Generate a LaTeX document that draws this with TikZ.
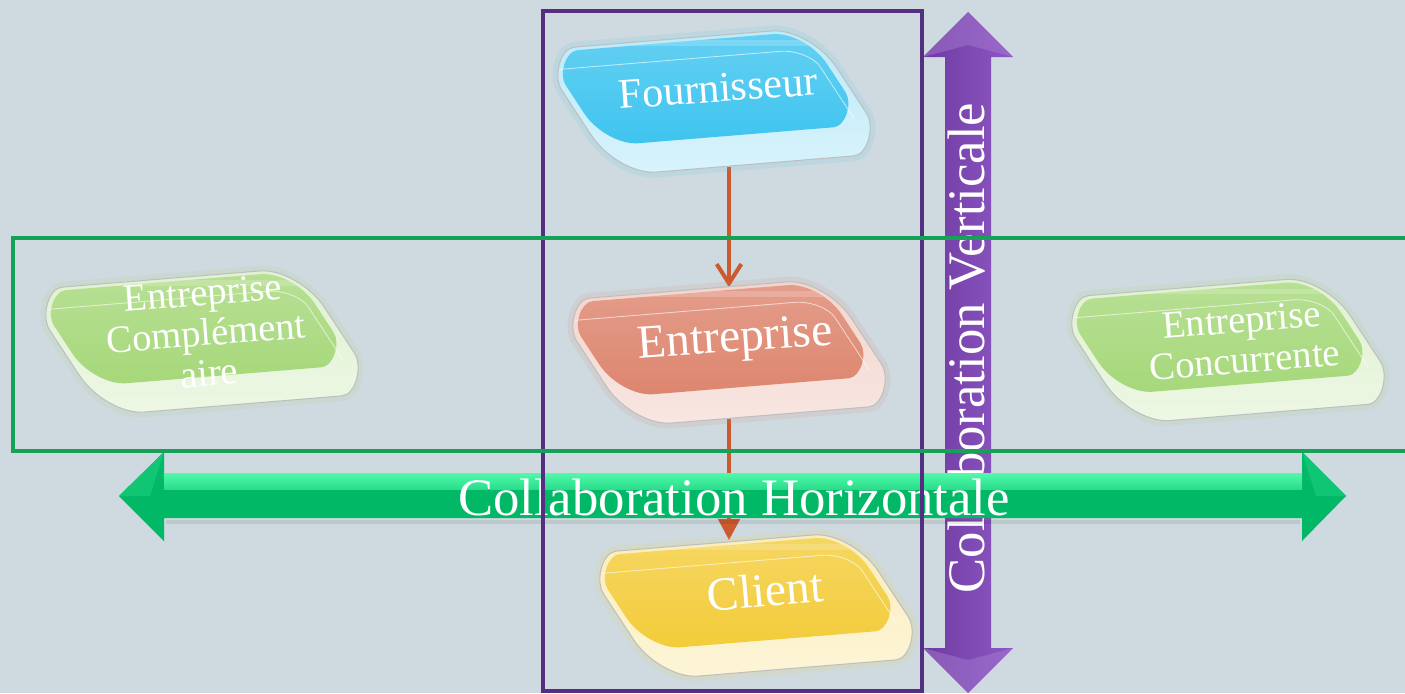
\documentclass[tikz,border=0pt]{standalone}
\usepackage{fontspec}
\setmainfont{Liberation Serif}
\usetikzlibrary{arrows.meta}
\definecolor{bgcol}{RGB}{206,218,223}
\definecolor{fourncol}{RGB}{62,196,239}
\definecolor{entrcol}{RGB}{221,133,110}
\definecolor{clicol}{RGB}{243,204,58}
\definecolor{partcol}{RGB}{166,216,122}
\definecolor{framevert}{RGB}{84,46,128}
\definecolor{framehor}{RGB}{22,160,88}
\definecolor{flowcol}{RGB}{204,90,46}
\definecolor{horlight}{RGB}{80,250,170}
\definecolor{hordark}{RGB}{0,184,102}
\definecolor{vertdark}{RGB}{110,58,160}
\definecolor{vertlight}{RGB}{142,88,196}
\tikzstyle{slot}=[rectangle,minimum width=6.24cm,minimum height=2.6cm,inner sep=0pt]
\tikzstyle{btntext}=[text=white,inner sep=0pt,align=center]
\tikzstyle{flow}=[draw=flowcol,line width=2.3pt]
\tikzstyle{frame}=[draw,line width=2.2pt]
\tikzstyle{bigtext}=[text=white,inner sep=0pt,font=\fontsize{30}{36}\selectfont]

% rounded box: x0 y0 x1 y1 cut-x cut-y, #7 = pull of the sharp corners
\newcommand{\glassrr}[7]{({#1+#5},#2) -- ({#3-#5},#2) .. controls +({0.552*#5},0) and +(0,{-0.552*#6}) .. (#3,{#2+#6})
  -- (#3,{#4-#6}) .. controls +(0,{#7*#6}) and +({#7*#5},0) .. ({#3-#5},#4)
  -- ({#1+#5},#4) .. controls +({-0.552*#5},0) and +(0,{0.552*#6}) .. (#1,{#4-#6})
  -- (#1,{#2+#6}) .. controls +(0,{-#7*#6}) and +({-#7*#5},0) .. ({#1+#5},#2) -- cycle}

% glass button drawn round a slot node
\newcommand{\slab}[2]{%
  \begin{scope}[shift={#1},x={(5.5cm,0.45cm)},y={(1.64cm,-2.5cm)}]
    \draw[#2,opacity=.12,line width=6pt] \glassrr{-0.5}{-0.5}{0.5}{0.5}{0.14}{0.32}{0.35};
    \shadedraw[top color=#2!35!white,bottom color=white!80!#2,draw=gray!50,line width=.6pt]
      \glassrr{-0.5}{-0.5}{0.5}{0.5}{0.14}{0.32}{0.35};
    \shade[top color=#2!80!white,bottom color=#2] \glassrr{-0.475}{-0.475}{0.475}{0.27}{0.12}{0.26}{0.35};
    \begin{scope}
      \clip \glassrr{-0.475}{-0.475}{0.475}{0.27}{0.12}{0.26}{0.35};
      \fill[white,opacity=.18] (-0.6,-0.6) rectangle (0.6,-0.34);
    \end{scope}
    \draw[white,opacity=.6,line width=.5pt] (-0.46,-0.34) -- (0.34,-0.34)
      .. controls +(0.06,0) and +(0,-0.07) .. (0.445,-0.2) -- (0.445,0.22);
  \end{scope}}

\begin{document}
\begin{tikzpicture}[x=0.02cm,y=-0.02cm]
        \useasboundingbox (0,0) rectangle (1405,693);
        \fill[bgcol] (0,0) rectangle (1405,693);

        \node[slot] (fourn) at (714,101.5) {};
        \node[slot] (entr) at (729,352.5) {};
        \node[slot] (cli) at (756,605.5) {};
        \node[slot] (compl) at (202,341.5) {};
        \node[slot] (concur) at (1228,350) {};

        % vertical arrow
        \shade[left color=vertdark,right color=vertlight]
          (968,12) -- (1013,57) -- (991,57) -- (991,648) -- (1013,648) -- (968,693)
          -- (923,648) -- (945,648) -- (945,57) -- (923,57) -- cycle;
        \fill[vertlight!80!white,opacity=.5] (968,12) -- (1013,57) -- (968,45) -- (923,57) -- cycle;
        \fill[vertlight!80!white,opacity=.5] (968,693) -- (1013,648) -- (968,660) -- (923,648) -- cycle;
        \node[bigtext,rotate=90] (vertlbl) at (967,348) {Collaboration Verticale};

        \draw[flow,-{Straight Barb[length=11pt,width=14pt]}] (fourn.south -| entr.north) to (entr.north);
        \draw[flow,-{Triangle[length=12pt,width=12pt]}] (entr.south) to (entr.south |- cli.north);

        % horizontal arrow
        \fill[black,opacity=.08] (166,520) rectangle (1300,524);
        \fill[hordark] (119,496) -- (164,452) -- (164,473) -- (1302,473) -- (1302,452) -- (1346,496)
          -- (1302,541) -- (1302,518) -- (164,518) -- (164,541) -- cycle;
        \shade[top color=horlight,bottom color=horlight!55!hordark] (164,473) rectangle (1302,489);
        \fill[hordark!80!horlight] (119,496) -- (164,452) -- (150,496) -- cycle;
        \fill[hordark!80!horlight] (1346,496) -- (1302,452) -- (1316,496) -- cycle;
        \node[bigtext] (horlbl) at (734,497) {Collaboration Horizontale};

        \draw[frame,framevert] (543,11) rectangle (922,691);
        \draw[frame,framehor] (13,238) rectangle (1412,451);

        \slab{(fourn.center)}{fourncol}
        \slab{(entr.center)}{entrcol}
        \slab{(cli.center)}{clicol}
        \slab{(compl.center)}{partcol}
        \slab{(concur.center)}{partcol}

        \node[btntext,rotate=4,font=\fontsize{24}{28}\selectfont] (fourn-t) at (718,88) {Fournisseur};
        \node[btntext,rotate=4,font=\fontsize{27}{30}\selectfont] (entr-t) at (735,341) {Entreprise};
        \node[btntext,rotate=5,font=\fontsize{27}{30}\selectfont] (cli-t) at (765,590) {Client};
        \node[btntext,rotate=4.5,font=\fontsize{22}{23}\selectfont] (compl-t) at (206,333) {Entreprise\\Complément\\aire};
        \node[btntext,rotate=4.5,font=\fontsize{22}{23}\selectfont] (concur-t) at (1243,340) {Entreprise\\Concurrente};

\end{tikzpicture}
\end{document}
